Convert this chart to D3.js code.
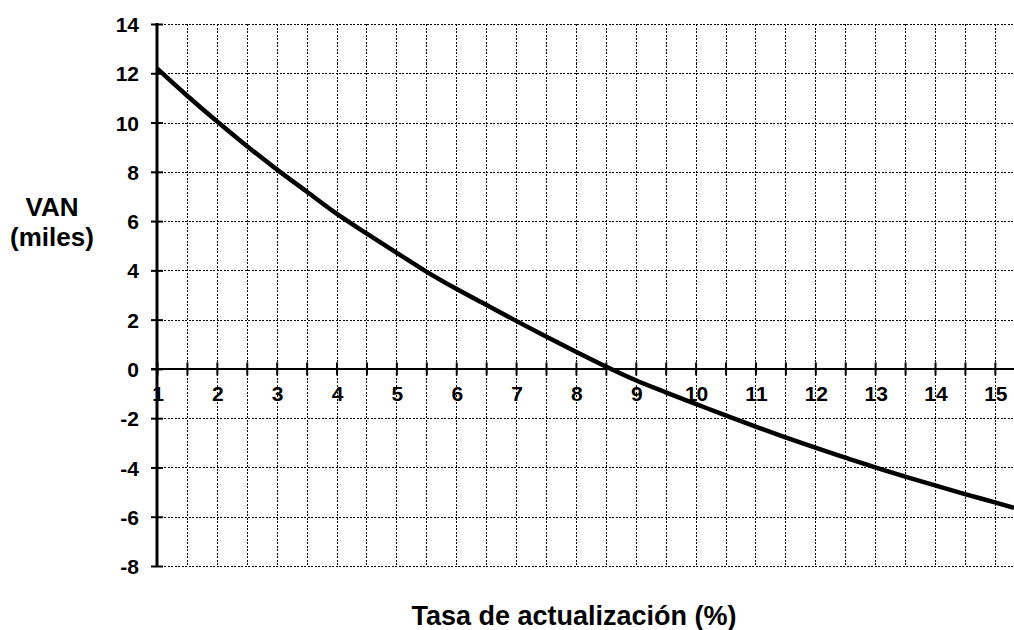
<!DOCTYPE html>
<html>
<head>
<meta charset="utf-8">
<script src="https://cdn.jsdelivr.net/npm/d3@7"></script>
<style>
  html, body { margin: 0; padding: 0; background: #fff; }
  svg { display: block; }
  text { font-family: "Liberation Sans", Arial, sans-serif; font-weight: bold; fill: #000; }
</style>
</head>
<body>
<svg id="chart" width="1014" height="630"></svg>
<script>
// Data
const rates = [1, 1.5, 2, 2.5, 3, 3.5, 4, 4.5, 5, 5.5, 6, 6.5, 7, 7.5, 8, 8.5, 9, 9.5, 10, 10.5, 11, 11.5, 12, 12.5, 13, 13.5, 14, 14.5, 15, 15.32];
const van = [12.2, 11.1, 10.05, 9.05, 8.1, 7.2, 6.3, 5.5, 4.72, 3.95, 3.25, 2.6, 1.95, 1.32, 0.7, 0.1, -0.46, -0.95, -1.42, -1.89, -2.34, -2.78, -3.2, -3.6, -4.0, -4.37, -4.73, -5.08, -5.42, -5.64];
const yTickValues = [14, 12, 10, 8, 6, 4, 2, 0, -2, -4, -6, -8];
const xTickLabels = [1, 2, 3, 4, 5, 6, 7, 8, 9, 10, 11, 12, 13, 14, 15];
const xMinorTicks = d3.range(1, 15.01, 0.5);
const yTitleLines = ["VAN", "(miles)"];
const xTitle = "Tasa de actualización (%)";

const svg = d3.select("#chart");
const mLeft = 157, mRight = 1014, mTop = 24, mBottom = 566;

const x = d3.scaleLinear().domain([1, 15.32]).range([mLeft, mRight]);
const y = d3.scaleLinear().domain([-8, 14]).range([mBottom, mTop]);

// Grid
const grid = svg.append("g").attr("stroke", "#000").attr("stroke-width", 1).attr("stroke-dasharray", "2,1.5").attr("shape-rendering", "crispEdges");
grid.selectAll("line.v").data(xMinorTicks.filter(d => d > 1)).join("line")
  .attr("x1", d => Math.round(x(d)) + 0.5).attr("x2", d => Math.round(x(d)) + 0.5)
  .attr("y1", mTop).attr("y2", mBottom);
grid.selectAll("line.h").data(yTickValues.filter(d => d !== 0)).join("line")
  .attr("x1", mLeft).attr("x2", mRight)
  .attr("y1", d => Math.round(y(d)) + 0.5).attr("y2", d => Math.round(y(d)) + 0.5);

// X axis (at y = 0)
const xAxis = d3.axisBottom(x).tickValues(xMinorTicks).tickSize(0).tickFormat("");
const gx = svg.append("g").attr("transform", `translate(0,${y(0)})`).call(xAxis);
gx.select(".domain").remove();
gx.append("line").attr("x1", mLeft - 6).attr("x2", mRight).attr("y1", 0).attr("y2", 0)
  .attr("stroke", "#000").attr("stroke-width", 2);
gx.selectAll(".tick").append("line").attr("y1", -6.5).attr("y2", 6.5)
  .attr("stroke", "#000").attr("stroke-width", 2);
gx.selectAll("text.xl").data(xTickLabels).join("text")
  .attr("class", "xl")
  .attr("x", d => x(d) + 1).attr("y", 32)
  .attr("text-anchor", "middle").attr("font-size", 21)
  .text(d => d);

// Y axis
const yAxis = d3.axisLeft(y).tickValues(yTickValues).tickSize(0).tickFormat("");
const gy = svg.append("g").attr("transform", `translate(${mLeft},0)`).call(yAxis);
gy.select(".domain").remove();
gy.append("line").attr("x1", 0).attr("x2", 0).attr("y1", mTop - 1).attr("y2", mBottom + 1)
  .attr("stroke", "#000").attr("stroke-width", 3);
gy.selectAll(".tick").append("line").attr("x1", -6).attr("x2", 6)
  .attr("stroke", "#000").attr("stroke-width", 2);
gy.selectAll(".tick").append("text")
  .attr("x", -18).attr("dy", "0.36em")
  .attr("text-anchor", "end").attr("font-size", 21)
  .text(d => d);

// Curve
const line = d3.line().x((d, i) => x(rates[i])).y(d => y(d)).curve(d3.curveMonotoneX);
svg.append("path").datum(van).attr("d", line)
  .attr("fill", "none").attr("stroke", "#000").attr("stroke-width", 4.5).attr("stroke-linejoin", "round");

// Titles
svg.append("text").attr("x", 52).attr("y", 216).attr("text-anchor", "middle").attr("font-size", 26).text(yTitleLines[0]);
svg.append("text").attr("x", 52).attr("y", 246).attr("text-anchor", "middle").attr("font-size", 26).text(yTitleLines[1]);
svg.append("text").attr("x", 574).attr("y", 625).attr("text-anchor", "middle").attr("font-size", 27).text(xTitle);
</script>
</body>
</html>
